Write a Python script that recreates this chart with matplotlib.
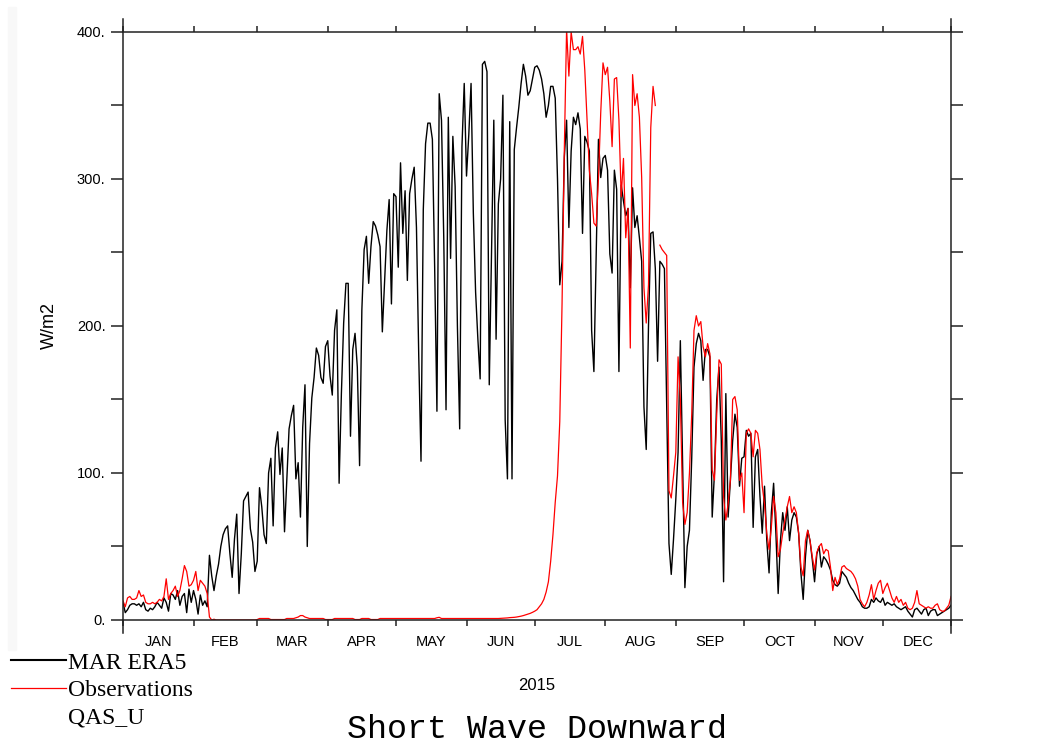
import numpy as np
import matplotlib
matplotlib.use("Agg")
import matplotlib.pyplot as plt
from matplotlib.lines import Line2D
from matplotlib.patches import Rectangle
from matplotlib.ticker import FixedLocator, NullFormatter

plt.rcParams['font.family'] = ['Liberation Sans', 'DejaVu Sans']

# daily shortwave downward (W/m2), station QAS_U, 2015
era5_jan = [12, 5, 7, 10, 11, 11, 10, 11, 9, 12, 7, 6, 8, 7, 9, 12, 10, 8, 15, 12,
            6, 18, 17, 14, 20, 10, 16, 18, 5, 21, 12]
era5_feb = [20, 14, 4, 17, 10, 13, 9, 44, 30, 20, 30, 38, 50, 58, 62, 64, 45, 29, 55, 72,
            18, 45, 81, 84, 87, 62, 53, 33]
era5_mar = [40, 90, 77, 58, 52, 100, 110, 64, 117, 128, 99, 117, 60, 95, 130, 139, 146, 96, 107, 70,
            131, 160, 50, 120, 151, 165, 185, 180, 165, 161, 186]
era5_apr = [190, 166, 153, 197, 211, 93, 154, 202, 229, 229, 125, 184, 195, 172, 105, 211, 252, 261, 229, 254,
            271, 268, 262, 254, 196, 231, 265, 286, 215, 290]
era5_may = [288, 240, 311, 263, 292, 231, 290, 300, 308, 267, 180, 108, 279, 324, 338, 338, 327, 240, 142, 358,
            340, 260, 143, 342, 246, 329, 295, 200, 130, 322, 365]
era5_jun = [302, 330, 365, 277, 223, 191, 164, 378, 380, 373, 160, 250, 340, 191, 283, 300, 357, 136, 96, 339,
            96, 320, 335, 349, 365, 378, 370, 357, 360, 368]
era5_jul = [376, 377, 374, 368, 358, 342, 350, 363, 363, 355, 300, 228, 244, 315, 340, 267, 319, 342, 337, 345,
            334, 263, 329, 325, 319, 197, 169, 249, 327, 301, 314]
era5_aug = [316, 306, 249, 236, 306, 293, 169, 296, 285, 275, 280, 226, 294, 267, 275, 260, 244, 145, 116, 200,
            263, 264, 239, 176, 244, 242, 239, 145, 52, 31, 55]
era5_sep = [82, 114, 190, 104, 22, 50, 61, 110, 172, 188, 195, 190, 163, 184, 184, 179, 70, 100, 150, 172,
            122, 26, 154, 70, 95, 122, 140, 131, 91, 110]
era5_oct = [111, 129, 125, 127, 63, 111, 116, 84, 59, 91, 54, 32, 73, 93, 59, 18, 54, 73, 61, 77,
            54, 68, 73, 70, 59, 32, 14, 43, 61, 54, 41]
era5_nov = [26, 45, 50, 36, 43, 41, 38, 34, 27, 24, 23, 25, 33, 31, 29, 25, 22, 20, 17, 14,
            12, 9, 8, 8, 9, 14, 12, 15, 13, 12]
era5_dec = [15, 10, 12, 11, 10, 11, 9, 8, 7, 8, 9, 6, 4, 2, 7, 8, 6, 4, 7, 8,
            3, 6, 7, 7, 3, 4, 5, 6, 7, 8, 10]

obs_jan = [13, 9, 15, 16, 14, 14, 15, 20, 16, 17, 12, 11, 11, 12, 11, 12, 14, 13, 16, 28,
           14, 18, 20, 23, 16, 20, 28, 37, 33, 23, 24]
obs_feb = [27, 33, 20, 27, 25, 23, 18, 2, 0, 0.5, 0, 0, 0, 0, 0, 0, 0, 0, 0, 0,
           0, 0, 0, 0, 0, 0, 0, 0]
obs_mar = [0.3, 1, 1, 1, 1, 1, 0.3, 0.3, 0.3, 0.3, 0.3, 0.3, 0.3, 1, 1, 1, 1, 1.5, 2, 3,
           3, 2, 1.5, 1, 1, 1, 1, 1, 1, 1, 0.3]
obs_apr = [0.3, 0.3, 0.3, 1, 1, 1, 1, 1, 1, 1, 1, 1, 0.3, 0.3, 0.3, 1, 1, 1, 1, 0.3,
           0.3, 0.3, 0.3, 1, 1, 1, 1, 1, 1, 1]
obs_may = [1, 1, 1, 1, 1, 1, 1, 1, 1, 1, 1, 1, 1, 1, 1, 1, 1, 1, 1.5, 1.8,
           1, 1, 1, 1, 1, 1, 1, 1, 1, 1, 1]
obs_jun = [1, 1, 1, 1, 1, 1, 1, 1, 1, 1, 1, 1, 1, 1, 1, 1.1, 1.2, 1.3, 1.4, 1.6,
           1.7, 1.8, 2, 2.3, 2.6, 3, 3.5, 4, 4.5, 5.2]
obs_jul = [6, 7, 9, 11, 14, 19, 26, 40, 58, 80, 98, 135, 215, 320, 402, 370, 400, 388, 388, 390,
           385, 397, 374, 340, 306, 290, 270, 268, 300, 345, 379]
obs_aug = [371, 376, 353, 322, 368, 369, 340, 288, 314, 260, 280, 185, 371, 350, 358, 342, 301, 226, 202, 228,
           335, 363, 350, np.nan, 255, 252, 250, 248, 88, 83, 98]
obs_sep = [114, 179, 150, 80, 65, 73, 100, 140, 197, 207, 200, 203, 186, 179, 188, 181, 102, 95, 140, 177,
           174, 84, 68, 79, 95, 150, 152, 143, 95, 100]
obs_oct = [73, 127, 130, 127, 111, 129, 127, 116, 91, 79, 59, 48, 63, 84, 73, 43, 48, 59, 68, 77,
           84, 73, 77, 73, 59, 36, 30, 54, 61, 54, 43]
obs_nov = [34, 46, 50, 52, 45, 48, 47, 36, 20, 29, 24, 28, 36, 37, 35, 34, 33, 31, 28, 23,
           14, 11, 9, 12, 17, 24, 14, 20, 25, 27]
obs_dec = [18, 22, 25, 20, 15, 12, 16, 12, 14, 10, 12, 8, 7, 8, 12, 20, 11, 10, 9, 8,
           9, 8, 8, 10, 11, 7, 6, 6, 8, 10, 16]

months = ['JAN', 'FEB', 'MAR', 'APR', 'MAY', 'JUN', 'JUL', 'AUG', 'SEP', 'OCT', 'NOV', 'DEC']
month_len = [31, 28, 31, 30, 31, 30, 31, 31, 30, 31, 30, 31]

era5 = np.array(era5_jan + era5_feb + era5_mar + era5_apr + era5_may + era5_jun +
                era5_jul + era5_aug + era5_sep + era5_oct + era5_nov + era5_dec, dtype=float)
obs = np.array(obs_jan + obs_feb + obs_mar + obs_apr + obs_may + obs_jun +
               obs_jul + obs_aug + obs_sep + obs_oct + obs_nov + obs_dec, dtype=float)
days = np.arange(len(era5))

month_start = np.concatenate([[0], np.cumsum(month_len)[:-1]])
month_mid = month_start + np.array(month_len) / 2.0
edges = list(month_start) + [364]

fig = plt.figure(figsize=(10.45, 7.44), dpi=100)
fig.patches.append(Rectangle((0.008, 0.126), 0.007, 0.864, transform=fig.transFigure,
                             color='#f8f8f8', zorder=0))
ax = fig.add_axes([0.1177, 0.1667, 0.7924, 0.7903])

ax.plot(days, era5, color='black', lw=1.0)
ax.plot(days, obs, color='red', lw=0.9)

ax.set_xlim(0, 364)
ax.set_ylim(0, 400)

for s in ax.spines.values():
    s.set_linewidth(1.1)
    s.set_color('#222222')
ax.spines['left'].set_bounds(-9, 409)
ax.spines['right'].set_bounds(-9, 409)

ax.xaxis.set_major_locator(FixedLocator(edges))
ax.xaxis.set_major_formatter(NullFormatter())
ax.xaxis.set_minor_locator(FixedLocator(month_mid))
ax.set_xticklabels(months, minor=True)
ax.tick_params(axis='x', which='major', direction='out', length=4.5, width=1.1,
               top=True, bottom=True, color='#222222')
ax.tick_params(axis='x', which='minor', length=0, pad=11, labelsize=10.5)

ax.set_yticks([0, 100, 200, 300, 400])
ax.set_yticklabels(['0.', '100.', '200.', '300.', '400.'])
ax.set_yticks([50, 150, 250, 350], minor=True)
ax.tick_params(axis='y', which='both', direction='out', length=8.6, width=1.1,
               left=True, right=True, labelsize=10.5, pad=4, color='#222222')

ax.set_ylabel('W/m2', fontsize=13)
ax.yaxis.set_label_coords(-0.078, 0.5)

fig.text(537 / 1045, 1 - 685 / 744, '2015', ha='center', va='center', fontsize=12)
fig.text(537 / 1045, 1 - 730 / 744, 'Short Wave Downward', ha='center', va='center',
         fontsize=24, family='Liberation Mono')

handles = [Line2D([], [], color='black', lw=1.5),
           Line2D([], [], color='red', lw=0.9),
           Line2D([], [], color='none')]
fig.legend(handles, ['MAR ERA5', 'Observations', 'QAS_U'], loc='upper left',
           bbox_to_anchor=(0.011, 1 - 652 / 744), frameon=False, borderaxespad=0,
           borderpad=0, handlelength=2.3, handletextpad=0.1, labelspacing=0.25,
           prop={'family': 'Liberation Serif', 'size': 17})

fig.savefig('out.png', dpi=100, facecolor='white')
